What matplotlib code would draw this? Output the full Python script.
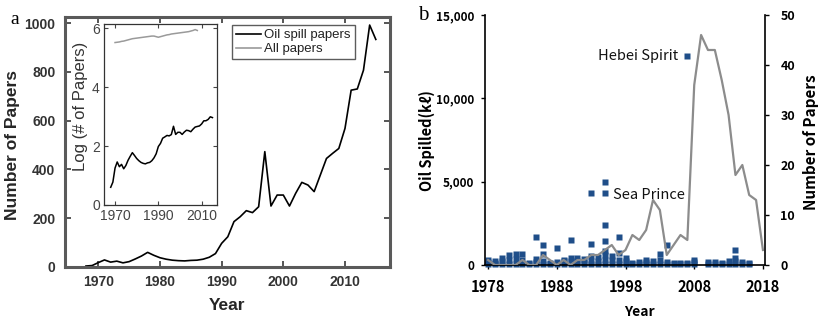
import matplotlib
matplotlib.use("Agg")
import matplotlib.pyplot as plt
from matplotlib.ticker import FuncFormatter
import numpy as np

# ---- panel a: oil spill papers per year ----
years_a = list(range(1968, 2016))
oil_papers = [4, 6, 18, 29, 20, 24, 17, 22, 33, 45,
              60, 48, 38, 32, 28, 26, 25, 27, 28, 32,
              40, 55, 97, 124, 186, 206, 231, 223, 247, 473,
              250, 295, 295, 250, 302, 347, 336, 309, 377, 445,
              466, 486, 568, 725, 730, 807, 992, 933]

# log10 of all indexed papers per year
years_all = list(range(1970, 2009))
all_papers_log = [5.52, 5.53, 5.54, 5.56, 5.57, 5.59, 5.61, 5.63, 5.65, 5.66,
                  5.67, 5.68, 5.69, 5.70, 5.71, 5.72, 5.73, 5.74, 5.74, 5.72,
                  5.70, 5.72, 5.74, 5.76, 5.78, 5.79, 5.81, 5.82, 5.83, 5.84,
                  5.85, 5.86, 5.87, 5.88, 5.89, 5.91, 5.93, 5.96, 5.93]

# ---- panel b: spill incidents (kl) and Korean papers per year ----
spill_year = [1978, 1978, 1978, 1979, 1979, 1979, 1980, 1980, 1980,
              1981, 1981, 1981, 1982, 1982, 1982, 1983, 1983, 1983,
              1984, 1984, 1985, 1985, 1985, 1985, 1986, 1986, 1986, 1986,
              1987, 1987, 1988, 1988, 1988, 1989, 1989, 1989,
              1990, 1990, 1990, 1990, 1991, 1991, 1991, 1992, 1992, 1992,
              1993, 1993, 1993, 1993, 1993, 1994, 1994, 1994,
              1995, 1995, 1995, 1995, 1995, 1995, 1995, 1995,
              1996, 1996, 1996, 1997, 1997, 1997, 1997,
              1998, 1998, 1998, 1999, 1999, 2000, 2000, 2001, 2001, 2001,
              2002, 2002, 2003, 2003, 2003, 2004, 2004, 2004, 2005, 2005,
              2006, 2006, 2007, 2007, 2007, 2008, 2008, 2008,
              2010, 2010, 2011, 2011, 2012, 2012, 2013, 2013,
              2014, 2014, 2014, 2014, 2015, 2015, 2016, 2016]
spill_kl = [50, 200, 300, 50, 150, 250, 50, 250, 450,
            50, 300, 600, 50, 350, 650, 50, 300, 650,
            50, 150, 50, 200, 350, 1700, 50, 250, 650, 1200,
            50, 150, 50, 200, 1050, 50, 250, 300,
            50, 250, 400, 1500, 50, 250, 450, 50, 200, 350,
            50, 250, 550, 1250, 4350, 50, 250, 500,
            50, 300, 600, 850, 1450, 2400, 4300, 5000,
            50, 300, 550, 50, 300, 700, 1700,
            50, 250, 400, 50, 150, 50, 200, 50, 200, 300,
            50, 250, 50, 300, 650, 50, 200, 1200, 50, 150,
            50, 150, 50, 150, 12550, 50, 200, 300,
            50, 200, 50, 200, 50, 150, 50, 250,
            50, 250, 450, 900, 50, 200, 50, 150]

years_b = list(range(1978, 2019))
papers_b = [1, 0, 0, 0, 0, 1, 0, 0, 2, 1,
            0, 1, 0, 1, 1, 2, 2, 3, 4, 2,
            3, 6, 5, 7, 13, 11, 2, 4, 6, 5,
            36, 46, 43, 43, 37, 30, 18, 20, 14, 13, 3]

W, H = 820, 322
fig = plt.figure(figsize=(W / 100, H / 100), dpi=100)


def box(l, t, r, b):
    return [l / W, (H - b) / H, (r - l) / W, (b - t) / H]


SANS_A = ["Liberation Sans", "DejaVu Sans"]
SANS_B = ["Noto Sans CJK KR", "DejaVu Sans"]

# ================= panel a =================
ax = fig.add_axes(box(65, 17, 390, 267))
ax.plot(years_a, oil_papers, color="black", lw=1.2)
ax.set_xlim(1964.6, 2017.3)
ax.set_ylim(0, 1025)
ax.set_xticks([1970, 1980, 1990, 2000, 2010])
ax.set_yticks([0, 200, 400, 600, 800, 1000])
ax.tick_params(direction="in", top=True, right=True, length=4, width=1.4,
               color="#555555", labelcolor="#333333", labelsize=10)
ax.tick_params(axis="y", pad=7)
ax.tick_params(axis="x", pad=6)
for lab in ax.get_xticklabels() + ax.get_yticklabels():
    lab.set_fontfamily(SANS_A)
    lab.set_fontweight("bold")
for sp in ax.spines.values():
    sp.set_color("#5a5a5a")
    sp.set_linewidth(2.2)

ax.plot([], [], color="black", lw=1.2, label="Oil spill papers")
ax.plot([], [], color="#9a9a9a", lw=1.2, label="All papers")
leg = ax.legend(loc="upper left", bbox_to_anchor=(0.514, 0.968),
                borderaxespad=0, fancybox=False, frameon=True,
                prop={"family": SANS_A, "size": 9.5}, handlelength=1.9,
                handletextpad=0.25, borderpad=0.3, labelspacing=0.15)
leg.get_frame().set_edgecolor("#333333")
leg.get_frame().set_linewidth(1.0)
for t in leg.get_texts():
    t.set_color("#222222")

fig.text(227 / W, 1 - 305 / H, "Year", ha="center", va="center",
         fontsize=12.5, fontweight="bold", family=SANS_A, color="#262626")
fig.text(13 / W, 1 - 145 / H, "Number of Papers", ha="center", va="center",
         rotation=90, fontsize=12.5, fontweight="bold", family=SANS_A,
         color="#262626")
fig.text(10 / W, 1 - 20 / H, "a", ha="left", va="center", fontsize=14,
         family=["Liberation Serif", "DejaVu Serif"], color="black")

# inset: log scale counts
axi = fig.add_axes(box(104, 24, 217, 205))
axi.plot(years_all, all_papers_log, color="#9a9a9a", lw=1.1)
axi.plot(years_a, np.log10(oil_papers), color="black", lw=1.1)
axi.set_xlim(1964.9, 2017.1)
axi.set_ylim(0, 6.15)
axi.set_xticks([1970, 1990, 2010])
axi.set_yticks([0, 2, 4, 6])
axi.tick_params(direction="in", top=True, right=True, length=3, width=0.8,
                color="#444444", labelcolor="#444444", labelsize=10, pad=3)
for lab in axi.get_xticklabels() + axi.get_yticklabels():
    lab.set_fontfamily(SANS_A)
for sp in axi.spines.values():
    sp.set_color("#333333")
    sp.set_linewidth(0.9)
fig.text(81 / W, 1 - 106 / H, "Log (# of Papers)", ha="center", va="center",
         rotation=90, fontsize=12, family=SANS_A, color="#333333")

# ================= panel b =================
BLUE = "#1f4e89"
GREY = "#8c8c8c"
axb = fig.add_axes(box(485, 15, 765, 265))
axb.plot(spill_year, spill_kl, "s", ms=5.0, color=BLUE, mec="none",
         clip_on=False)
axb.set_xlim(1977.55, 2018.3)
axb.set_ylim(0, 15000)
axb.set_xticks([1978, 1988, 1998, 2008, 2018])
axb.set_yticks([0, 5000, 10000, 15000])
axb.yaxis.set_major_formatter(FuncFormatter(lambda v, p: f"{int(v):,}"))
axb.tick_params(axis="y", direction="out", length=3, width=1, pad=5,
                labelsize=8.5)
axb.tick_params(axis="x", direction="out", length=3, width=1, pad=7,
                labelsize=10.5)
for lab in axb.get_xticklabels() + axb.get_yticklabels():
    lab.set_fontfamily(SANS_B)
    lab.set_fontweight("bold")
axb.spines["top"].set_visible(False)
axb.spines["right"].set_visible(False)
for s in ("left", "bottom"):
    axb.spines[s].set_linewidth(1.2)

axr = axb.twinx()
axr.plot(years_b, papers_b, color=GREY, lw=1.6)
axr.set_ylim(0, 50)
axr.set_yticks([0, 10, 20, 30, 40, 50])
axr.tick_params(axis="y", direction="out", length=3, width=1, pad=8,
                labelsize=9)
for lab in axr.get_yticklabels():
    lab.set_fontfamily(SANS_B)
    lab.set_fontweight("bold")
for s in ("top", "left", "bottom"):
    axr.spines[s].set_visible(False)
axr.spines["right"].set_linewidth(1.2)

axb.annotate("Hebei Spirit", xy=(2007, 12550), xytext=(-6.5, 0),
             textcoords="offset points", ha="right", va="center",
             fontsize=10.5, family=SANS_B, color="#111111")
axb.annotate("Sea Prince", xy=(1995, 4200), xytext=(5.5, 0),
             textcoords="offset points", ha="left", va="center",
             fontsize=10.5, family=SANS_B, color="#111111")

fig.text(639 / W, 1 - 312 / H, "Year", ha="center", va="center",
         fontsize=10, fontweight="bold", family=SANS_B)
fig.text(427 / W, 1 - 141 / H, "Oil Spilled(k\u2113)", ha="center",
         va="center", rotation=90, fontsize=10.5, fontweight="bold",
         family=SANS_B)
fig.text(811 / W, 1 - 142 / H, "Number of Papers", ha="center", va="center",
         rotation=90, fontsize=11, fontweight="bold", family=SANS_B)
fig.text(418 / W, 1 - 15 / H, "b", ha="left", va="center", fontsize=15,
         family=["Liberation Serif", "DejaVu Serif"], color="black")

fig.savefig("out.png", dpi=100)
